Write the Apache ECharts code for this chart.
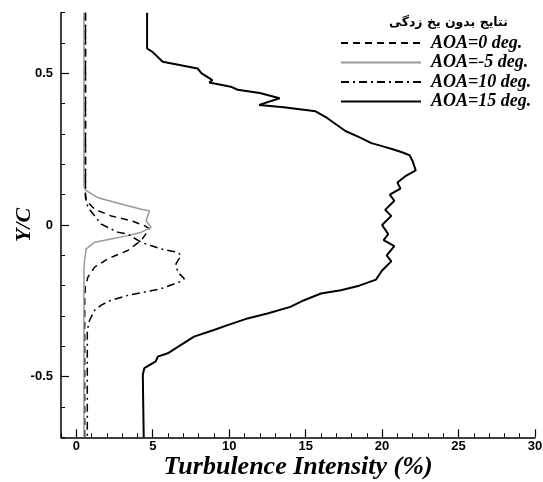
<!DOCTYPE html>
<html>
<head>
<meta charset="utf-8">
<script src="https://cdn.jsdelivr.net/npm/echarts@6/dist/echarts.min.js"></script>
<style>html,body{margin:0;padding:0;background:#fff;}#c{width:543px;height:482px;}</style>
</head>
<body>
<div id="c"></div>
<script>
// ---- data: [Turbulence Intensity (%), Y/C] ----
const aoa0 = [[0.6,0.7],[0.6,0.1],[0.65,0.08],[1.2,0.052],[2.28,0.03],[3.59,0.014],[4.46,-0.002],[4.78,-0.013],[4.24,-0.051],[3.37,-0.084],[2.07,-0.111],[1.2,-0.139],[0.76,-0.172],[0.59,-0.204],[0.55,-0.25],[0.55,-0.7]];
const aoaM5 = [[0.5,0.7],[0.5,0.13],[0.6,0.115],[1.41,0.09],[2.93,0.069],[4.24,0.052],[4.78,0.047],[4.57,0.014],[4.89,-0.008],[4.2,-0.025],[3.37,-0.035],[2.28,-0.046],[1.2,-0.057],[0.65,-0.079],[0.54,-0.117],[0.5,-0.15],[0.5,-0.7]];
const aoa10 = [[0.6,0.7],[0.6,0.09],[0.76,0.058],[1.63,0.003],[2.72,-0.024],[3.37,-0.03],[4.24,-0.057],[5.54,-0.079],[6.63,-0.09],[6.85,-0.1],[6.52,-0.128],[6.63,-0.155],[7.07,-0.177],[6.74,-0.188],[5.54,-0.21],[4.46,-0.221],[3.37,-0.232],[2.28,-0.248],[1.63,-0.264],[1.2,-0.281],[0.87,-0.314],[0.72,-0.346],[0.72,-0.7]];
const aoa15 = [[4.63,0.7],[4.63,0.582],[5.0,0.57],[5.65,0.538],[6.5,0.53],[7.93,0.516],[8.2,0.5],[8.9,0.478],[8.7,0.47],[10.1,0.456],[10.55,0.446],[12.0,0.435],[13.3,0.418],[11.96,0.396],[13.57,0.388],[15.65,0.375],[16.4,0.353],[17.6,0.31],[18.5,0.29],[19.3,0.27],[20.0,0.26],[20.7,0.25],[21.3,0.24],[21.8,0.23],[22.0,0.21],[22.2,0.18],[21.5,0.16],[21.0,0.14],[21.2,0.12],[20.5,0.1],[20.8,0.08],[20.2,0.05],[20.6,0.03],[20.0,0.0],[20.4,-0.03],[20.1,-0.05],[20.8,-0.07],[20.3,-0.1],[20.6,-0.12],[20.0,-0.15],[19.6,-0.18],[18.5,-0.2],[17.3,-0.215],[16.0,-0.226],[14.9,-0.248],[14.0,-0.27],[12.5,-0.292],[11.2,-0.308],[9.9,-0.33],[9.0,-0.346],[7.7,-0.368],[6.85,-0.395],[5.98,-0.423],[5.33,-0.434],[5.2,-0.45],[4.45,-0.472],[4.35,-0.494],[4.41,-0.5],[4.41,-0.7]];

const seriesNames = ['AOA=0 deg.','AOA=-5 deg.','AOA=10 deg.','AOA=15 deg.'];
const legendTitle = 'نتایج بدون یخ زدگی';
const xMajor = [0,5,10,15,20,25,30];
const xMinor = [-1,1,2,3,4,6,7,8,9,11,12,13,14,16,17,18,19,21,22,23,24,26,27,28,29];
const yMajor = [-0.5,0,0.5];
const yMinor = [-0.7,-0.6,-0.4,-0.3,-0.2,-0.1,0.1,0.2,0.3,0.4,0.6,0.7];

const chart = echarts.init(document.getElementById('c'), null, {renderer:'canvas'});
const grid = {left:61, right:8, top:12.7, bottom:44.7, outerBoundsMode:'none', containLabel:false};
const labelFont = {fontFamily:'Liberation Sans, Arial', fontWeight:'bold', fontSize:13, color:'#000'};
const serif = 'Liberation Serif, Times New Roman';

chart.setOption({
  animation:false,
  backgroundColor:'#fff',
  grid:[grid, grid],
  legend:{
    data:seriesNames, orient:'vertical', left:335, top:29, itemWidth:80, itemHeight:12, itemGap:1.5,
    itemStyle:{opacity:0},
    textStyle:{fontFamily:serif, fontWeight:'bold', fontStyle:'italic', fontSize:18, color:'#000', padding:[0,0,0,5]},
    selectedMode:false
  },
  graphic:[{type:'text', left:389, top:16, style:{text:legendTitle, font:'bold 12.5px "DejaVu Sans"', fill:'#000'}}],
  xAxis:[
    {type:'value', gridIndex:0, min:-1, max:30, name:'Turbulence Intensity (%)', nameLocation:'middle', nameGap:17, nameMoveOverlap:false,
     nameTextStyle:{fontFamily:serif, fontWeight:'bold', fontStyle:'italic', fontSize:26, color:'#000'},
     axisLine:{show:true, onZero:false, lineStyle:{color:'#000', width:1.5}}, splitLine:{show:false},
     axisTick:{show:true, inside:true, length:8, customValues:xMajor, lineStyle:{color:'#000', width:1.2}},
     axisLabel:{customValues:xMajor, margin:3, ...labelFont}},
    {type:'value', gridIndex:1, min:-1, max:30, axisLine:{show:false, onZero:false}, splitLine:{show:false},
     axisTick:{show:true, inside:true, length:4, customValues:xMinor, lineStyle:{color:'#000', width:1}},
     axisLabel:{show:false}}
  ],
  yAxis:[
    {type:'value', gridIndex:0, min:-0.7, max:0.7, name:'Y/C', nameLocation:'middle', nameGap:26, nameMoveOverlap:false,
     nameTextStyle:{fontFamily:serif, fontWeight:'bold', fontStyle:'italic', fontSize:22, color:'#000'},
     axisLine:{show:true, onZero:false, lineStyle:{color:'#000', width:1.5}}, splitLine:{show:false},
     axisTick:{show:true, inside:true, length:8, customValues:yMajor, lineStyle:{color:'#000', width:1.2}},
     axisLabel:{customValues:yMajor, margin:8, ...labelFont}},
    {type:'value', gridIndex:1, min:-0.7, max:0.7, axisLine:{show:false, onZero:false}, splitLine:{show:false},
     axisTick:{show:true, inside:true, length:4, customValues:yMinor, lineStyle:{color:'#000', width:1}},
     axisLabel:{show:false}}
  ],
  series:[
    {name:seriesNames[0], type:'line', data:aoa0, showSymbol:false, symbol:'none', lineStyle:{color:'#000', width:1.5, type:[7,5]}, itemStyle:{color:'#000'}},
    {name:seriesNames[1], type:'line', data:aoaM5, showSymbol:false, symbol:'none', lineStyle:{color:'#999', width:1.5}, itemStyle:{color:'#999'}},
    {name:seriesNames[2], type:'line', data:aoa10, showSymbol:false, symbol:'none', lineStyle:{color:'#000', width:1.5, type:[8,4,2,4]}, itemStyle:{color:'#000'}},
    {name:seriesNames[3], type:'line', data:aoa15, showSymbol:false, symbol:'none', lineStyle:{color:'#000', width:2}, itemStyle:{color:'#000'}}
  ]
});
</script>
</body>
</html>
